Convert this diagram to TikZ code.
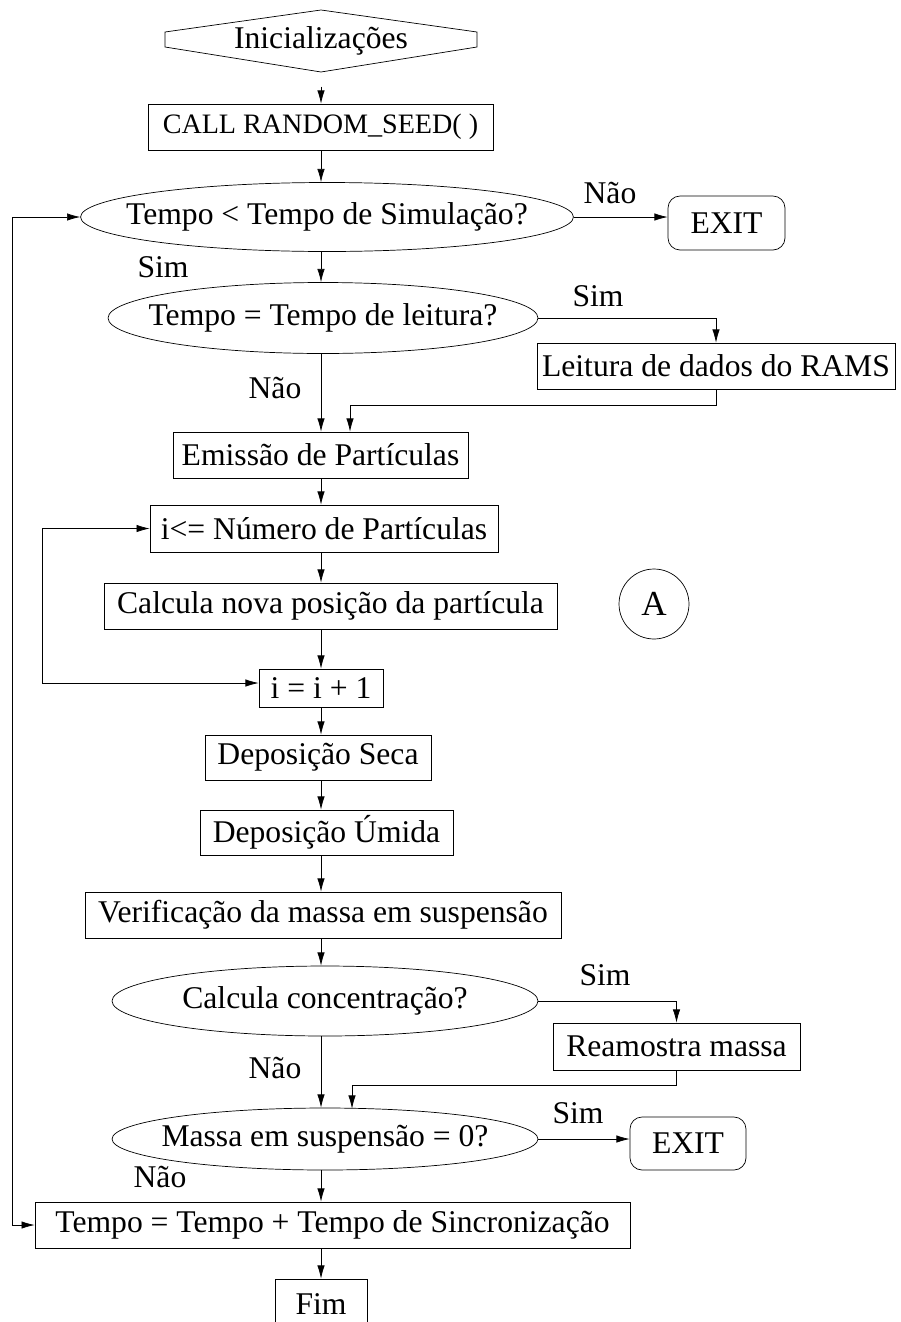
\documentclass[tikz,border=0pt]{standalone}
\usepackage{fontspec}
\setmainfont{Liberation Serif}
\usepackage{tikz}
\usetikzlibrary{positioning,calc,shapes.geometric,arrows.meta}
\tikzset{
block/.style={rectangle, draw=black, thin, minimum height=0.92cm, inner sep=0pt},
decision/.style={ellipse, draw=black, thin, inner sep=0pt},
term/.style={rectangle, rounded corners=0.24cm, draw=black, thin, inner sep=0pt},
lbl/.style={inner sep=0pt},
connect/.style={-{Latex[length=7.5pt,width=4.2pt]}, thin},
connect2/.style={{Latex[length=7.5pt,width=4.2pt]}-{Latex[length=7.5pt,width=4.2pt]}, thin}
}

\begin{document}
\begin{tikzpicture}[x=0.02cm,y=-0.02cm,font=\fontsize{18}{21}\selectfont]
        \path[use as bounding box,clip] (0,0) rectangle (900,1322);
        \coordinate (axis) at (321,0);
        \coordinate (outer) at (12,0);
        \coordinate (inner) at (42,0);

        \node[lbl] (init) at (321,41) {Inicializações};
        \draw[thin] (165,32) -- (321,10) -- (477,32) -- (477,47) -- (321,72) -- (165,47) -- cycle;
        \node[block, minimum width=6.9cm, font=\fontsize{16}{19}\selectfont] (seed) at (320.5,127) {CALL RANDOM\_SEED( )};
        \node[decision, minimum width=9.86cm, minimum height=1.38cm, label={[lbl]center:Tempo < Tempo de Simulação?}] (q1) at (327,217) {};
        \node[term, minimum width=2.34cm, minimum height=1.08cm] (exit1) at (726.5,223) {EXIT};
        \node[lbl] (nao1) at (610,193) {Não};
        \node[lbl] (sim1) at (163,267) {Sim};
        \node[decision, minimum width=8.6cm, minimum height=1.42cm, label={[lbl]center:Tempo = Tempo de leitura?}] (q2) at (323,318) {};
        \node[lbl] (sim2) at (598,296) {Sim};
        \node[block, minimum width=7.16cm] (read) at (716,366) {Leitura de dados do RAMS};
        \node[lbl] (nao2) at (275,388) {Não};
        \node[block, minimum width=5.9cm] (emit) at (320.5,455) {Emissão de Partículas};
        \node[block, minimum width=6.96cm, minimum height=0.94cm] (loopi) at (324,528.5) {i<= Número de Partículas};
        \node[block, minimum width=9.06cm] (calc) at (330.5,606) {Calcula nova posição da partícula};
        \node[block, minimum width=2.48cm, minimum height=0.76cm] (inc) at (321,688) {i = i + 1};
        \node[circle, draw=black, thin, minimum size=1.4cm, inner sep=0pt, font=\fontsize{20}{22}\selectfont] (A) at (654,604) {A};
        \node[block, minimum width=4.52cm, minimum height=0.9cm] (dry) at (318,757.5) {Deposição Seca};
        \node[block, minimum width=5.06cm, minimum height=0.9cm] (wet) at (326.5,832.5) {Deposição Úmida};
        \node[block, minimum width=9.52cm] (verif) at (323,915) {Verificação da massa em suspensão};
        \node[decision, minimum width=8.52cm, minimum height=1.4cm, label={[lbl]center:Calcula concentração?}] (q3) at (325,1001) {};
        \node[lbl] (sim3) at (605,975) {Sim};
        \node[block, minimum width=4.94cm, minimum height=0.94cm] (resamp) at (676.5,1046.5) {Reamostra massa};
        \node[lbl] (nao3) at (275,1068) {Não};
        \node[decision, minimum width=8.52cm, minimum height=1.24cm, label={[lbl]center:Massa em suspensão = 0?}] (q4) at (325,1139) {};
        \node[lbl] (sim4) at (578,1113) {Sim};
        \node[term, minimum width=2.32cm, minimum height=1.06cm] (exit2) at (688,1143.5) {EXIT};
        \node[lbl] (nao4) at (160,1177) {Não};
        \node[block, minimum width=11.9cm] (sync) at (332.5,1225) {Tempo = Tempo + Tempo de Sincronização};
        \node[block, minimum width=1.84cm, minimum height=1cm] (fim) at (321,1304) {Fim};

        \draw[connect] (init.south -| axis) ++(0,31) -- (seed.north -| axis);
        \draw[connect] (seed.south -| axis) -- (q1.north -| axis);
        \draw[connect] (q1.east) -- (q1.east -| exit1.west);
        \draw[connect] (q1.south -| axis) -- (q2.north -| axis);
        \draw[connect] (q2.east) -| (read.north);
        \draw[connect] (q2.south -| axis) -- (emit.north -| axis);
        \draw[connect] (read.south) -- ++(0,16) -| ($(emit.north)+(29.5,0)$);
        \draw[connect] (emit.south -| axis) -- (loopi.north -| axis);
        \draw[connect] (loopi.south -| axis) -- (calc.north -| axis);
        \draw[connect] (calc.south -| axis) -- (inc.north -| axis);
        \draw[connect2] (loopi.west) -- (loopi.west -| inner) -- ($(inc.west -| inner)+(0,-5)$) -- ($(inc.west)+(0,-5)$);
        \draw[connect] (inc.south -| axis) -- (dry.north -| axis);
        \draw[connect] (dry.south -| axis) -- (wet.north -| axis);
        \draw[connect] (wet.south -| axis) -- (verif.north -| axis);
        \draw[connect] (verif.south -| axis) -- (q3.north -| axis);
        \draw[connect] (q3.east) -| (resamp.north);
        \draw[connect] (q3.south -| axis) -- (q4.north -| axis);
        \draw[connect] (resamp.south) -- ++(0,15) -| ($(q4.north)+(27,1)$);
        \draw[connect] (q4.east) -- (q4.east -| exit2.west);
        \draw[connect] (q4.south -| axis) -- (sync.north -| axis);
        \draw[connect2] (q1.west) -- (q1.west -| outer) -- (sync.west -| outer) -- (sync.west);
        \draw[connect] (sync.south -| axis) -- (fim.north -| axis);
    \end{tikzpicture}
\end{document}
